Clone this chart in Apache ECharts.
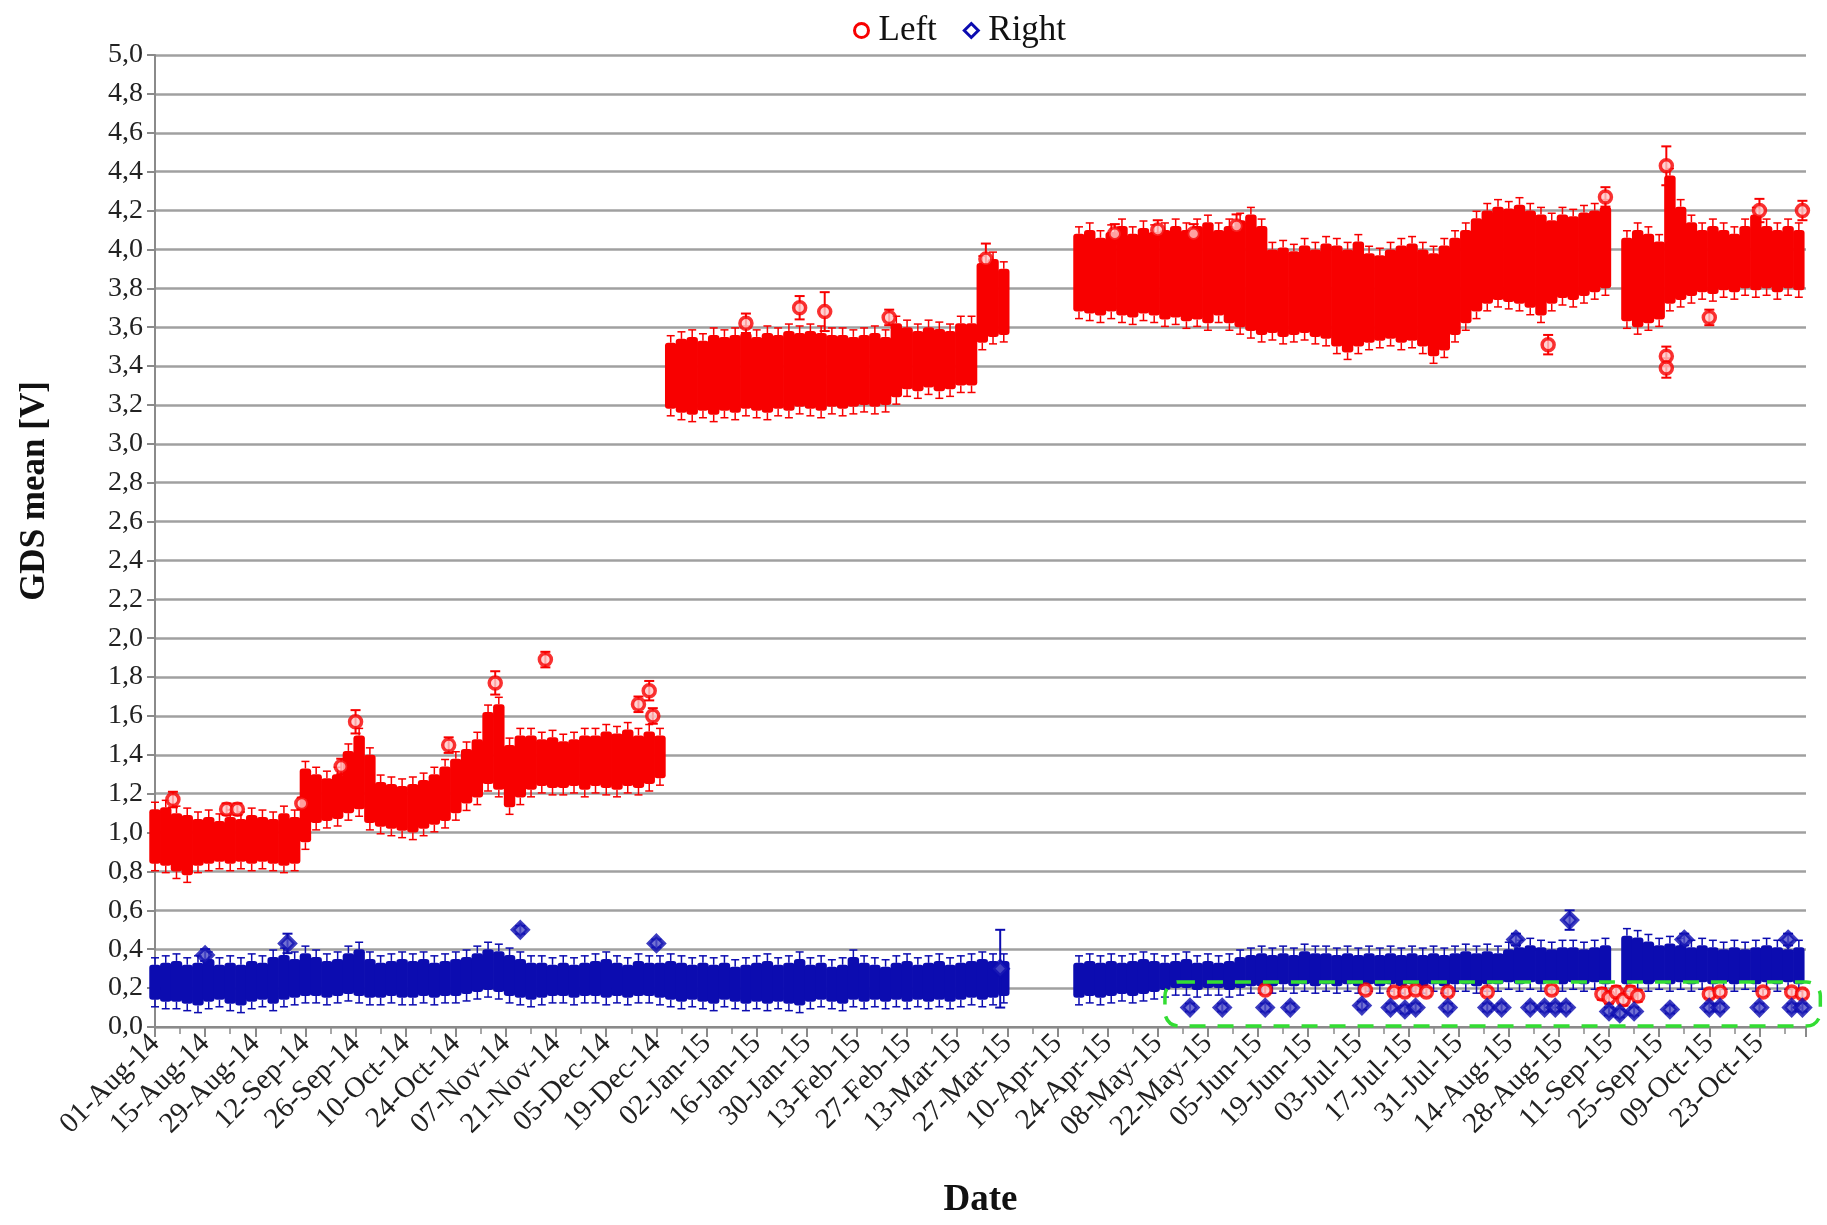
<!DOCTYPE html>
<html><head><meta charset="utf-8">
<script src="https://cdn.jsdelivr.net/npm/echarts@6/dist/echarts.min.js"></script>
<style>html,body{margin:0;padding:0;background:#fff}#c{width:1827px;height:1225px}</style>
</head><body><div id="c"></div>
<script>
// x values are days since 01-Aug-14
const tickLabels = ['01-Aug-14','15-Aug-14','29-Aug-14','12-Sep-14','26-Sep-14','10-Oct-14','24-Oct-14','07-Nov-14','21-Nov-14','05-Dec-14','19-Dec-14','02-Jan-15','16-Jan-15','30-Jan-15','13-Feb-15','27-Feb-15','13-Mar-15','27-Mar-15','10-Apr-15','24-Apr-15','08-May-15','22-May-15','05-Jun-15','19-Jun-15','03-Jul-15','17-Jul-15','31-Jul-15','14-Aug-15','28-Aug-15','11-Sep-15','25-Sep-15','09-Oct-15','23-Oct-15'];

// dense measurement cloud, envelope per sampled day
const bandDay = [
 0,3,6,9,12,15,18,21,24,27,30,33,36,39,42,45,48,51,54,57,60,63,66,69,72,75,78,81,84,87,90,93,96,99,102,105,108,111,114,117,120,123,126,129,132,135,138,141,
 144,147,150,153,156,159,162,165,168,171,174,177,180,183,186,189,192,195,198,201,204,207,210,213,216,219,222,225,228,231,234,237,
 258,261,264,267,270,273,276,279,282,285,288,291,294,297,300,303,306,309,312,315,318,321,324,327,330,333,336,339,342,345,348,351,354,357,360,363,366,369,372,375,378,381,384,387,390,393,396,399,402,405,
 411,414,417,420,423,426,429,432,435,438,441,444,447,450,453,456,459];

const leftLo = [
 .84,.83,.80,.78,.83,.84,.85,.84,.85,.84,.85,.84,.83,.84,.95,1.05,1.06,1.07,1.10,1.12,1.05,1.03,1.02,1.01,1.00,1.02,1.04,1.06,1.10,1.15,1.18,1.25,1.22,1.13,1.18,1.22,1.24,1.23,1.23,1.24,1.22,1.24,1.23,1.22,1.24,1.23,1.25,1.28,
 3.18,3.16,3.15,3.17,3.15,3.17,3.16,3.18,3.17,3.16,3.18,3.17,3.19,3.18,3.17,3.19,3.18,3.19,3.20,3.19,3.20,3.24,3.28,3.27,3.29,3.27,3.28,3.30,3.30,3.52,3.55,3.56,
 3.68,3.67,3.66,3.68,3.66,3.65,3.67,3.66,3.64,3.65,3.63,3.64,3.62,3.66,3.62,3.60,3.58,3.56,3.57,3.55,3.56,3.57,3.55,3.54,3.50,3.47,3.50,3.52,3.53,3.54,3.52,3.53,3.50,3.45,3.48,3.56,3.62,3.68,3.72,3.74,3.73,3.72,3.70,3.66,3.72,3.75,3.74,3.76,3.78,3.80,
 3.63,3.60,3.62,3.64,3.72,3.74,3.76,3.78,3.77,3.79,3.78,3.80,3.79,3.80,3.78,3.80,3.79];
const leftHi = [
 1.12,1.13,1.10,1.09,1.07,1.08,1.06,1.08,1.07,1.09,1.08,1.07,1.10,1.08,1.33,1.30,1.28,1.30,1.42,1.50,1.40,1.26,1.25,1.24,1.25,1.27,1.30,1.34,1.38,1.43,1.48,1.62,1.66,1.45,1.50,1.50,1.48,1.49,1.47,1.48,1.50,1.50,1.52,1.51,1.53,1.50,1.52,1.50,
 3.52,3.54,3.55,3.53,3.56,3.55,3.56,3.57,3.55,3.57,3.56,3.58,3.57,3.58,3.57,3.56,3.56,3.55,3.56,3.57,3.55,3.62,3.60,3.58,3.60,3.59,3.58,3.62,3.62,3.93,3.95,3.90,
 4.08,4.10,4.06,4.09,4.12,4.08,4.11,4.09,4.10,4.12,4.10,4.12,4.14,4.10,4.12,4.15,4.18,4.12,4.00,4.01,3.99,4.02,4.00,4.03,4.02,4.00,4.04,3.98,3.97,4.00,4.02,4.03,4.00,3.98,4.02,4.06,4.10,4.16,4.20,4.22,4.21,4.23,4.20,4.18,4.15,4.18,4.17,4.19,4.20,4.22,
 4.06,4.10,4.08,4.04,4.38,4.22,4.14,4.10,4.12,4.10,4.08,4.12,4.18,4.12,4.10,4.12,4.10];

const rightLo = [
 .14,.13,.13,.12,.11,.13,.14,.12,.11,.13,.14,.12,.14,.15,.16,.16,.15,.16,.17,.16,.15,.15,.16,.15,.15,.16,.15,.16,.16,.17,.18,.19,.18,.16,.15,.14,.15,.16,.16,.15,.16,.16,.15,.16,.15,.16,.16,.15,
 .14,.13,.14,.13,.12,.14,.13,.12,.13,.12,.13,.12,.11,.13,.14,.13,.12,.14,.13,.14,.13,.14,.13,.14,.13,.14,.13,.14,.15,.14,.15,.16,
 .15,.16,.15,.16,.17,.16,.17,.18,.19,.20,.20,.19,.20,.20,.19,.20,.21,.21,.21,.22,.21,.22,.21,.22,.21,.22,.21,.22,.21,.22,.21,.22,.21,.22,.21,.22,.22,.21,.22,.22,.23,.22,.23,.22,.23,.22,.23,.22,.23,.22,
 .22,.23,.22,.23,.22,.23,.22,.23,.22,.23,.22,.23,.22,.23,.22,.23,.22];
const rightHi = [
 .32,.33,.34,.32,.33,.35,.32,.33,.32,.34,.33,.36,.37,.35,.38,.36,.34,.35,.38,.40,.35,.33,.34,.35,.34,.35,.33,.34,.35,.36,.38,.40,.39,.37,.35,.33,.33,.32,.33,.32,.33,.34,.35,.33,.32,.34,.33,.33,
 .34,.33,.32,.33,.32,.33,.31,.32,.33,.34,.32,.33,.35,.32,.33,.31,.32,.36,.33,.32,.31,.33,.34,.32,.33,.34,.32,.33,.34,.35,.34,.34,
 .33,.34,.33,.34,.33,.34,.35,.34,.33,.34,.35,.33,.34,.33,.34,.36,.37,.38,.37,.38,.37,.39,.38,.38,.37,.38,.37,.38,.37,.38,.37,.38,.37,.38,.37,.38,.39,.38,.39,.38,.40,.41,.42,.41,.40,.41,.41,.40,.41,.42,
 .47,.46,.44,.42,.43,.42,.41,.42,.41,.40,.41,.40,.41,.42,.41,.40,.41];

// isolated points with error bars
const leftOutDay = [5,20,23,41,52,56,82,95,109,135,138,139,165,180,187,205,232,268,280,290,302,389,405,422,422,422,434,448,460,
  310,338,346,349,352,355,361,372,390,404,406,408,410,412,414,434,437,449,457,460];
const leftOutVal = [1.17,1.12,1.12,1.15,1.34,1.57,1.45,1.77,1.89,1.66,1.73,1.60,3.62,3.70,3.68,3.65,3.95,4.08,4.10,4.08,4.12,3.51,4.27,4.43,3.45,3.39,3.65,4.20,4.20,
  0.19,0.19,0.18,0.18,0.19,0.18,0.18,0.18,0.19,0.17,0.15,0.18,0.14,0.18,0.16,0.17,0.18,0.18,0.18,0.17];
const leftOutErr = [.04,.03,.03,.03,.04,.06,.04,.06,.04,.04,.05,.04,.05,.06,.10,.04,.08,.05,.05,.05,.06,.05,.05,.10,.05,.05,.04,.06,.05,
  .02,.02,.02,.02,.02,.02,.02,.02,.02,.03,.03,.03,.03,.03,.03,.02,.02,.02,.02,.02];

const rightOutDay = [14,37,102,140,236,380,395,427,456,
  289,298,310,317,337,345,349,352,361,372,376,384,388,391,394,406,409,413,423,434,437,448,457,460];
const rightOutVal = [0.37,0.43,0.50,0.43,0.30,0.45,0.55,0.45,0.45,
  0.10,0.10,0.10,0.10,0.11,0.10,0.09,0.10,0.10,0.10,0.10,0.10,0.10,0.10,0.10,0.08,0.07,0.08,0.09,0.10,0.10,0.10,0.10,0.10];
const rightOutErr = [.03,.05,.02,.02,.20,.03,.05,.03,.03,
  .02,.02,.02,.02,.02,.02,.02,.02,.02,.02,.02,.02,.02,.02,.02,.02,.02,.02,.02,.02,.02,.02,.02,.02];

// highlighted region [x0, y0, x1, y1]
const greenBox = [282, 0.005, 465, 0.232];

const RED = '#f80000', BLUE = '#0c0cb0';
const SERIF = '"Liberation Serif","Times New Roman",serif';

function bandRender(color) {
  return function (params, api) {
    const d = api.value(0), lo = api.value(1), hi = api.value(2);
    const a = api.coord([d - 1.6, hi]);
    const b = api.coord([d + 1.6, lo]);
    const t = api.coord([d, hi]);
    const u = api.coord([d, lo]);
    return { type: 'group', children: [
      { type: 'rect', shape: { x: a[0], y: a[1], width: b[0] - a[0], height: b[1] - a[1], r: 3 }, style: { fill: color } },
      { type: 'line', shape: { x1: t[0], y1: t[1], x2: t[0], y2: t[1] - 7 }, style: { stroke: color, lineWidth: 1.5 } },
      { type: 'line', shape: { x1: t[0] - 4, y1: t[1] - 7, x2: t[0] + 4, y2: t[1] - 7 }, style: { stroke: color, lineWidth: 1.5 } },
      { type: 'line', shape: { x1: u[0], y1: u[1], x2: u[0], y2: u[1] + 7 }, style: { stroke: color, lineWidth: 1.5 } },
      { type: 'line', shape: { x1: u[0] - 4, y1: u[1] + 7, x2: u[0] + 4, y2: u[1] + 7 }, style: { stroke: color, lineWidth: 1.5 } }
    ]};
  };
}
function errRender(color) {
  return function (params, api) {
    const d = api.value(0), v = api.value(1), e = api.value(2);
    const p = api.coord([d, v + e]);
    const q = api.coord([d, v - e]);
    return { type: 'group', children: [
      { type: 'line', shape: { x1: p[0], y1: p[1], x2: q[0], y2: q[1] }, style: { stroke: color, lineWidth: 2 } },
      { type: 'line', shape: { x1: p[0] - 5, y1: p[1], x2: p[0] + 5, y2: p[1] }, style: { stroke: color, lineWidth: 2 } },
      { type: 'line', shape: { x1: q[0] - 5, y1: q[1], x2: q[0] + 5, y2: q[1] }, style: { stroke: color, lineWidth: 2 } }
    ]};
  };
}

const leftBand = bandDay.map((d, i) => [d, leftLo[i], leftHi[i]]);
const rightBand = bandDay.map((d, i) => [d, rightLo[i], rightHi[i]]);
const leftOut = leftOutDay.map((d, i) => [d, leftOutVal[i], leftOutErr[i]]);
const rightOut = rightOutDay.map((d, i) => [d, rightOutVal[i], rightOutErr[i]]);

const chart = echarts.init(document.getElementById('c'), null, { renderer: 'canvas' });
chart.setOption({
  animation: false,
  backgroundColor: '#fff',
  textStyle: { fontFamily: SERIF },
  legend: {
    top: 8, left: 848, itemGap: 26, itemWidth: 14, itemHeight: 14,
    textStyle: { fontFamily: SERIF, fontSize: 35, color: '#111', padding: [0, 0, 0, 5] },
    data: [
      { name: 'Left', icon: 'circle', itemStyle: { color: '#fff', borderColor: RED, borderWidth: 3 } },
      { name: 'Right', icon: 'diamond', itemStyle: { color: '#fff', borderColor: BLUE, borderWidth: 3 } }
    ]
  },
  grid: { left: 155, right: 21, top: 55, bottom: 198, containLabel: false },
  xAxis: {
    type: 'value', min: 0, max: 461, interval: 14,
    name: 'Date', nameLocation: 'middle', nameGap: 155,
    nameTextStyle: { fontFamily: SERIF, fontSize: 37, fontWeight: 'bold', color: '#111' },
    axisLine: { show: true, lineStyle: { color: '#8a8a8a', width: 2 } },
    axisTick: { show: true, length: 10, lineStyle: { color: '#8a8a8a', width: 2 } },
    minorTick: { show: true, splitNumber: 2, length: 7, lineStyle: { color: '#8a8a8a', width: 1.5 } },
    splitLine: { show: false },
    axisLabel: {
      rotate: 45, fontFamily: SERIF, fontSize: 29, color: '#222', margin: 12,
      showMaxLabel: false,
      formatter: function (v) { return (v % 14 === 0 && tickLabels[v / 14]) ? tickLabels[v / 14] : ''; }
    }
  },
  yAxis: {
    type: 'value', min: 0, max: 5, interval: 0.2,
    name: 'GDS mean [V]', nameLocation: 'middle', nameGap: 103, nameRotate: 90,
    nameTextStyle: { fontFamily: SERIF, fontSize: 35, fontWeight: 'bold', color: '#111', padding: [0, 0, 0, 100] },
    axisLine: { show: true, lineStyle: { color: '#8a8a8a', width: 2 } },
    axisTick: { show: true, length: 8, lineStyle: { color: '#8a8a8a', width: 2 } },
    splitLine: { show: true, lineStyle: { color: '#a0a0a0', width: 2.5 } },
    axisLabel: {
      fontFamily: SERIF, fontSize: 28, color: '#222', margin: 12,
      formatter: function (v) { return v.toFixed(1).replace('.', ','); }
    }
  },
  series: [
    { name: 'Left', type: 'custom', renderItem: bandRender(RED), data: leftBand, encode: { x: 0, y: [1, 2] }, itemStyle: { color: RED }, z: 2 },
    { name: 'Right', type: 'custom', renderItem: bandRender(BLUE), data: rightBand, encode: { x: 0, y: [1, 2] }, itemStyle: { color: BLUE }, z: 2 },
    { name: 'Left', type: 'custom', renderItem: errRender(RED), data: leftOut, encode: { x: 0, y: 1 }, itemStyle: { color: RED }, z: 3 },
    { name: 'Left', type: 'scatter', data: leftOut.map(p => [p[0], p[1]]), symbol: 'circle', symbolSize: 12,
      itemStyle: { color: '#ffc8c8', borderColor: RED, borderWidth: 3.5 }, z: 4 },
    { name: 'Right', type: 'custom', renderItem: errRender(BLUE), data: rightOut, encode: { x: 0, y: 1 }, itemStyle: { color: BLUE }, z: 3 },
    { name: 'Right', type: 'scatter', data: rightOut.map(p => [p[0], p[1]]), symbol: 'diamond', symbolSize: 15,
      itemStyle: { color: '#5050c8', borderColor: BLUE, borderWidth: 4 }, z: 4 },
    { name: 'box', type: 'custom', clip: false, silent: true, z: 5,
      data: [greenBox], encode: { x: [0, 2], y: [1, 3] },
      renderItem: function (params, api) {
        const p = api.coord([api.value(0), api.value(3)]);
        const q = api.coord([api.value(2), api.value(1)]);
        return { type: 'rect', shape: { x: p[0], y: p[1], width: q[0] - p[0], height: q[1] - p[1], r: 14 },
          style: { fill: 'none', stroke: '#33dd33', lineWidth: 3.5, lineDash: [16, 12] } };
      }
    }
  ]
});
</script>
</body></html>
